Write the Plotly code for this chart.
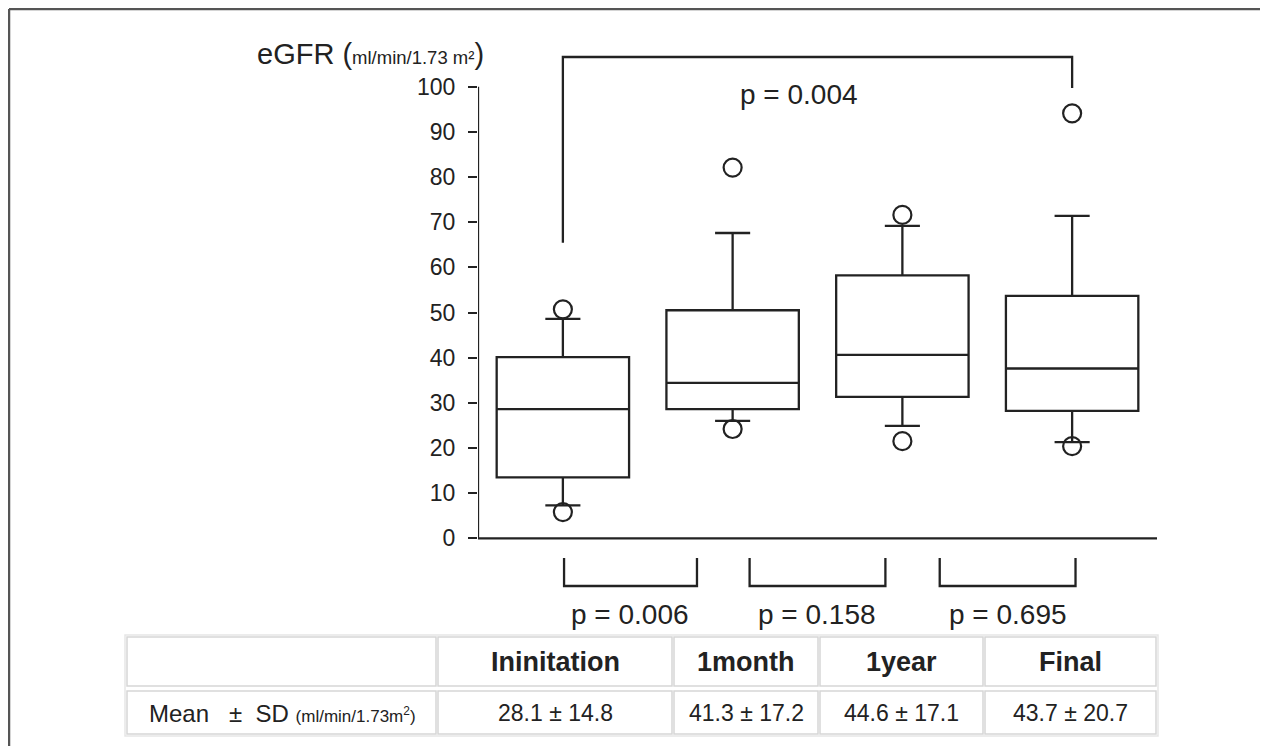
import plotly.graph_objects as go

# ---------------- data ----------------
categories = ["Ininitation", "1month", "1year", "Final"]
q1 = [13.5, 28.6, 31.3, 28.2]
median = [28.6, 34.4, 40.6, 37.6]
q3 = [40.1, 50.5, 58.2, 53.7]
lower_fence = [7.3, 26.0, 24.9, 21.3]
upper_fence = [48.6, 67.6, 69.2, 71.4]
outlier_cat = ["Ininitation", "Ininitation", "1month", "1month", "1year", "1year", "Final", "Final"]
outlier_val = [50.7, 5.8, 82.1, 24.2, 71.6, 21.5, 94.1, 20.4]
means = [28.1, 41.3, 44.6, 43.7]
sds = [14.8, 17.2, 17.1, 20.7]
y_ticks = [0, 10, 20, 30, 40, 50, 60, 70, 80, 90, 100]
p_overall = "0.004"
p_pairs = ["0.006", "0.158", "0.695"]

# ---------------- layout geometry ----------------
OFF = 8  # page body margin
W, H = 1268 - OFF, 746 - OFF
L, R, T, B = 478, 1157, 40, 640          # page pixel coords of plot area
PW, PH = R - L, B - T
Y0PX, PXU = 538.3, 4.516                 # page px of y=0, px per unit
ymax = (Y0PX - T) / PXU
ymin = (Y0PX - B) / PXU


def px_x(px):
    return (px - L) / PW


def px_y(py):
    return (B - py) / PH


def val_y(py):
    return (Y0PX - py) / PXU


INK = "#222222"
FONT = "Liberation Sans, Arial, sans-serif"

fig = go.Figure()

fig.add_trace(go.Box(
    x=categories, q1=q1, median=median, q3=q3,
    lowerfence=lower_fence, upperfence=upper_fence,
    boxpoints=False, width=0.78, whiskerwidth=0.265,
    fillcolor="white", line=dict(color=INK, width=2.3),
    hoverinfo="skip", showlegend=False,
))

fig.add_trace(go.Scatter(
    x=outlier_cat, y=outlier_val, mode="markers",
    marker=dict(symbol="circle-open", size=18, color=INK, line=dict(width=2.2, color=INK)),
    hoverinfo="skip", showlegend=False,
))

shapes = []
line = dict(color=INK, width=2.3)
# axis lines
shapes.append(dict(type="line", xref="x", yref="y", x0=-0.5, x1=-0.5, y0=0, y1=100, line=line))
shapes.append(dict(type="line", xref="x", yref="y", x0=-0.5, x1=3.5, y0=0, y1=0, line=line))

# top bracket (Ininitation vs Final)
top_y = val_y(57)
shapes.append(dict(type="path", xref="x", yref="y",
                   path=f"M 0,{val_y(242.7)} L 0,{top_y} L 3,{top_y} L 3,{val_y(88)}",
                   line=line))

# bottom brackets
br_x = [(0.007, 0.79), (1.10, 1.90), (2.22, 3.02)]
by0, by1 = val_y(558), val_y(586)
for a, b in br_x:
    shapes.append(dict(type="path", xref="x", yref="y",
                       path=f"M {a},{by0} L {a},{by1} L {b},{by1} L {b},{by0}",
                       line=line))

annotations = []
annotations.append(dict(x=1.39, y=val_y(94), xref="x", yref="y", text=f"p = {p_overall}",
                        xanchor="center", yanchor="middle",
                        showarrow=False, font=dict(size=28, color=INK, family=FONT)))
p_x = [0.395, 1.497, 2.62]
for px_, p in zip(p_x, p_pairs):
    annotations.append(dict(x=px_, y=val_y(614), xref="x", yref="y", text=f"p = {p}",
                            xanchor="center", yanchor="middle",
                            showarrow=False, font=dict(size=28, color=INK, family=FONT)))

# y-axis title
annotations.append(dict(
    x=px_x(255), y=px_y(54), xref="paper", yref="paper", xanchor="left", yanchor="middle",
    text="eGFR (<span style='font-size:18.5px'>ml/min/1.73 m²</span>)",
    showarrow=False, font=dict(size=29, color=INK, family=FONT)))

# table
cols = [(127, 436), (438, 672), (674, 818), (820, 983), (985, 1156)]
rows = [(637, 686), (691, 734)]
shapes.append(dict(type="rect", xref="paper", yref="paper",
                   x0=px_x(125), x1=px_x(1158), y0=px_y(635), y1=px_y(736),
                   line=dict(color="#e6e6e6", width=1.5)))
for (r0, r1) in rows:
    for (c0, c1) in cols:
        shapes.append(dict(type="rect", xref="paper", yref="paper",
                           x0=px_x(c0), x1=px_x(c1), y0=px_y(r0), y1=px_y(r1),
                           line=dict(color="#d6d6d6", width=1.5)))

for (c0, c1), cat in zip(cols[1:], categories):
    annotations.append(dict(x=px_x((c0 + c1) / 2), y=px_y(662), xref="paper", yref="paper",
                            xanchor="center", yanchor="middle",
                            text=f"<b>{cat}</b>", showarrow=False,
                            font=dict(size=27, color=INK, family=FONT)))
for (c0, c1), m, s in zip(cols[1:], means, sds):
    annotations.append(dict(x=px_x((c0 + c1) / 2), y=px_y(713), xref="paper", yref="paper",
                            xanchor="center", yanchor="middle",
                            text=f"{m} \u00b1 {s}", showarrow=False,
                            font=dict(size=23, color=INK, family=FONT)))
annotations.append(dict(
    x=px_x(282), y=px_y(713), xref="paper", yref="paper",
    xanchor="center", yanchor="middle",
    text="Mean\u00a0\u00a0 \u00b1\u00a0 SD <span style='font-size:17px'>(ml/min/1.73m<sup>2</sup>)</span>",
    showarrow=False, font=dict(size=24, color=INK, family=FONT)))

# outer frame (top and left edges)
shapes.append(dict(type="line", xref="paper", yref="paper",
                   x0=px_x(9), x1=px_x(1268), y0=px_y(9), y1=px_y(9),
                   line=dict(color="#555555", width=2.5)))
shapes.append(dict(type="line", xref="paper", yref="paper",
                   x0=px_x(9), x1=px_x(9), y0=px_y(9), y1=px_y(746),
                   line=dict(color="#555555", width=2.5)))

fig.update_layout(
    width=W, height=H,
    margin=dict(l=L - OFF, r=(W + OFF) - R, t=T - OFF, b=(H + OFF) - B, pad=0),
    paper_bgcolor="white", plot_bgcolor="white",
    font=dict(family=FONT, color=INK),
    shapes=shapes, annotations=annotations,
    xaxis=dict(type="category", categoryorder="array", categoryarray=categories,
               range=[-0.5, 3.5], showline=False, showgrid=False, zeroline=False,
               showticklabels=False, ticks="", fixedrange=True),
    yaxis=dict(range=[ymin, ymax], tickvals=y_ticks, ticktext=[str(v) for v in y_ticks],
               showline=False, showgrid=False, zeroline=False,
               ticks="outside", ticklen=9, tickwidth=2.2, tickcolor=INK,
               ticklabelstandoff=8, tickfont=dict(size=23, color=INK, family=FONT),
               fixedrange=True),
    showlegend=False,
)

fig.write_html("out.html")
